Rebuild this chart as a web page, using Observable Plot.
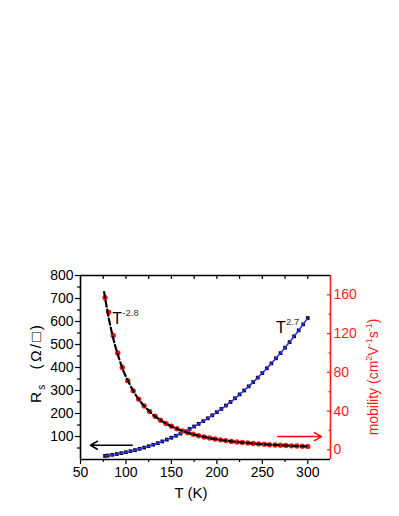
<!DOCTYPE html>
<html><head><meta charset="utf-8">
<script src="https://cdn.jsdelivr.net/npm/d3@7"></script>
<script src="https://cdn.jsdelivr.net/npm/@observablehq/plot@0.6"></script>
<style>body{margin:0;background:#fff} svg{display:block}</style>
</head><body><div id="chart"></div>
<script>
// Sheet resistance Rs (left axis) vs temperature T
const rsT = [77,80,85,90,95,100,105,110,115,120,125,130,135,140,145,150,155,160,165,170,175,180,185,190,195,200,205,210,215,220,225,230,235,240,245,250,255,260,265,270,275,280,285,290,295,300];
const rsValues = [15.6,17.3,20.4,23.8,27.6,31.7,36.1,41.0,46.2,51.8,57.8,64.3,71.2,78.5,86.4,94.6,103.4,112.7,122.4,132.7,143.5,154.9,166.7,179.1,192.2,205.8,219.9,234.7,250.1,266.2,282.9,300.1,318.1,336.6,356.0,375.9,396.6,417.9,439.9,462.7,486.3,510.5,535.5,561.3,587.7,615];
// Mobility (right axis) vs temperature T
const muT = [77,81,86,91,96,102,108,114,120,126,132,138,144,150,156,162,168,174,180,186,192,198,204,210,216,222,228,234,240,246,252,258,264,270,276,282,288,294,300];
const muValues = [157,142,118,100,85,71.4,60.9,52.3,45.3,39.5,34.7,30.6,27.2,24.3,21.7,19.6,17.7,16.0,14.6,13.3,12.2,11.2,10.3,9.5,8.7,8.1,7.5,7.0,6.5,6.1,5.7,5.3,5.0,4.7,4.4,4.1,3.9,3.7,3.5];
// Power-law fit of mobility (T^-2.8), dashed
const muFitT = [76,80,85,90,95,100,110,120,130,140,150,165,180,200,220,240,260,280,300];
const muFitValues = [162.9,141.1,119.0,101.4,87.2,75.5,57.8,45.3,36.2,29.4,24.3,18.6,14.6,10.8,8.3,6.5,5.2,4.2,3.5];
// Ticks
const xTicks = [50,100,150,200,250,300];
const xMinorTicks = [75,125,175,225,275];
const xTopTicks = [75,100,125,150,175,200,225,250,275,300];
const yTicks = [100,200,300,400,500,600,700,800];
const yMinorTicks = [50,150,250,350,450,550,650,750];
const muTicks = [0,40,80,120,160];
const muMinorTicks = [20,60,100,140];
const xDomain = [50,325];
const rsDomain = [0,800];
const muDomain = [-10,180];
// Annotations
const powerLabels = [
  {T: 85, y: 591, base: "T", sup: "-2.8"},
  {T: 265, y: 552, base: "T", sup: "2.7"}
];
const arrows = [
  {T1: 107, T2: 61, v: 62, axis: "left", color: "black"},
  {T1: 267, T2: 315, v: 13.7, axis: "right", color: "red"}
];

const toLeft = m => rsDomain[0] + (m - muDomain[0]) * (rsDomain[1]-rsDomain[0]) / (muDomain[1]-muDomain[0]);
const fromLeft = y => muDomain[0] + (y - rsDomain[0]) * (muDomain[1]-muDomain[0]) / (rsDomain[1]-rsDomain[0]);

const rsData = rsT.map((t,i) => ({T: t, v: rsValues[i]}));
const muData = muT.map((t,i) => ({T: t, v: toLeft(muValues[i])}));
const muFit = muFitT.map((t,i) => ({T: t, v: toLeft(muFitValues[i])}));
const arrowData = arrows.map(a => ({...a, y: a.axis === "left" ? a.v : toLeft(a.v)}));

const font = "'Liberation Sans', Arial, sans-serif";
const RED = "#ff1a1a";
const blank = () => "";

const chart = Plot.plot({
  width: 399, height: 516,
  marginTop: 275, marginBottom: 57, marginLeft: 80, marginRight: 69,
  style: {fontFamily: font, fontSize: "14px", color: "black", background: "white"},
  x: {domain: xDomain},
  y: {domain: rsDomain},
  marks: [
    Plot.axisX(xTicks, {anchor: "bottom", tickSize: 5, tickPadding: 3, fontSize: 14, label: null, strokeWidth: 1.2}),
    Plot.axisX(xMinorTicks, {anchor: "bottom", tickSize: 3, tickFormat: blank, label: null, strokeWidth: 1.2}),
    Plot.axisX(xTopTicks, {anchor: "top", tickSize: -3, tickFormat: blank, label: null, strokeWidth: 1.2}),
    Plot.axisY(yTicks, {anchor: "left", tickSize: 5, tickPadding: 2, fontSize: 14, label: null, strokeWidth: 1.2}),
    Plot.axisY(yMinorTicks, {anchor: "left", tickSize: 3, tickFormat: blank, label: null, strokeWidth: 1.2}),
    Plot.axisY(muTicks.map(toLeft), {anchor: "right", tickSize: -4, tickPadding: 7, fontSize: 14, tickFormat: v => String(Math.round(fromLeft(v))), color: RED, label: null, strokeWidth: 1.2}),
    Plot.axisY(muMinorTicks.map(toLeft), {anchor: "right", tickSize: -2.5, tickFormat: blank, color: RED, label: null, strokeWidth: 1.2}),
    Plot.ruleX([xDomain[0]], {stroke: "black", strokeWidth: 1.6}),
    Plot.ruleY([rsDomain[0]], {stroke: "black", strokeWidth: 1.6}),
    Plot.ruleY([rsDomain[1]], {stroke: "black", strokeWidth: 1.6}),
    Plot.ruleX([xDomain[1]], {stroke: RED, strokeWidth: 1.6}),
    Plot.dot(rsData, {x: "T", y: "v", symbol: "square", r: 2.1, fill: "black", stroke: "none"}),
    Plot.line(rsData, {x: "T", y: "v", stroke: "#3030ff", strokeWidth: 1.6, curve: "natural"}),
    Plot.dot(muData, {x: "T", y: "v", r: 2.7, fill: RED, stroke: "none"}),
    Plot.line(muFit, {x: "T", y: "v", stroke: "black", strokeWidth: 2.2, strokeDasharray: "6,3", curve: "natural"}),
    Plot.arrow(arrowData, {x1: "T1", x2: "T2", y1: "y", y2: "y", stroke: "color", strokeWidth: 1.5, headLength: 8}),
    Plot.text(powerLabels, {x: "T", y: "y", text: "base", textAnchor: "start", lineAnchor: "bottom", fontSize: 16, fill: "black"}),
    Plot.text(powerLabels, {x: "T", y: "y", text: "sup", textAnchor: "start", lineAnchor: "bottom", fontSize: 9.5, dx: 10, dy: -8, fill: "#333"})
  ]
});

document.getElementById("chart").appendChild(chart);
const svg = d3.select(chart);

// Left axis title: R_s (Ω/□)
const lt = svg.append("text")
  .attr("transform", "translate(41,363) rotate(-90)")
  .attr("text-anchor", "middle").attr("font-family", font).attr("font-size", 15.5)
  .attr("letter-spacing", 2.2).attr("fill", "black");
lt.append("tspan").text("R");
lt.append("tspan").attr("font-size", 10).attr("dy", 4).text("s");
lt.append("tspan").attr("dy", -4).text("  (Ω/□)");

// Right axis title: mobility (cm²V⁻¹s⁻¹)
const rt = svg.append("text")
  .attr("transform", "translate(378,377) rotate(-90)")
  .attr("text-anchor", "middle").attr("font-family", font).attr("font-size", 14).attr("fill", RED);
rt.append("tspan").text("mobility (cm");
rt.append("tspan").attr("font-size", 9).attr("dy", -6).text("2");
rt.append("tspan").attr("dy", 6).text("V");
rt.append("tspan").attr("font-size", 9).attr("dy", -6).text("-1");
rt.append("tspan").attr("dy", 6).text("s");
rt.append("tspan").attr("font-size", 9).attr("dy", -6).text("-1");
rt.append("tspan").attr("dy", 6).text(")");

// X axis title
svg.append("text").attr("x", 191).attr("y", 498)
  .attr("text-anchor", "middle").attr("font-family", font).attr("font-size", 15).attr("fill", "black")
  .text("T (K)");
</script>
</body></html>
